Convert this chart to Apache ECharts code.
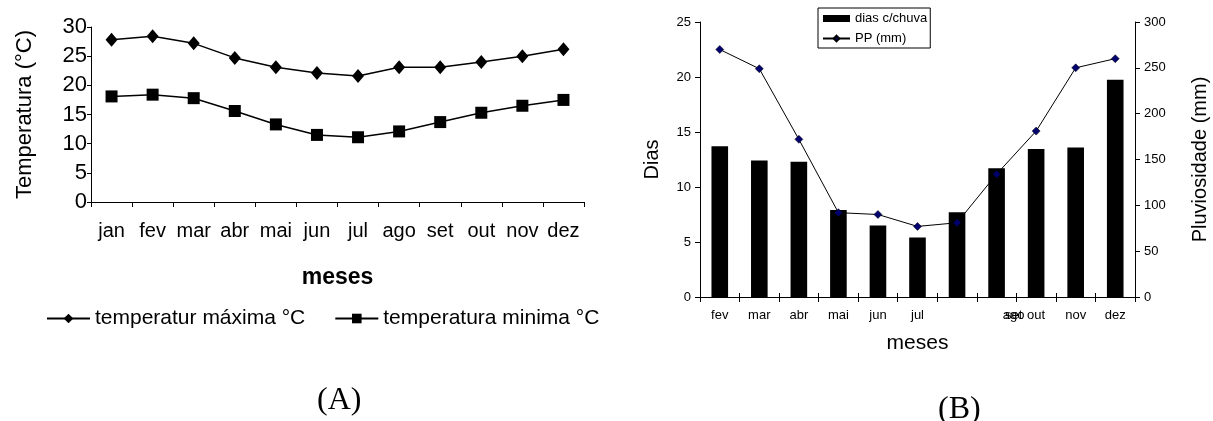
<!DOCTYPE html>
<html>
<head>
<meta charset="utf-8">
<script src="https://cdn.jsdelivr.net/npm/echarts@6/dist/echarts.min.js"></script>
<style>
  html, body { margin: 0; padding: 0; background: #fff; }
  #main { width: 1213px; height: 421px; }
</style>
</head>
<body>
<div id="main"></div>
<script>
// (A) temperaturas mensais
var meses = ['jan', 'fev', 'mar', 'abr', 'mai', 'jun', 'jul', 'ago', 'set', 'out', 'nov', 'dez'];
var tempMaxima = [27.8, 28.4, 27.2, 24.7, 23.1, 22.1, 21.6, 23.1, 23.1, 24.0, 25.0, 26.2];
var tempMinima = [18.1, 18.4, 17.8, 15.6, 13.3, 11.5, 11.1, 12.1, 13.7, 15.3, 16.5, 17.5];

// (B) dias de chuva e pluviosidade
var mesesB = ['fev', 'mar', 'abr', 'mai', 'jun', 'jul', '', 'ago', 'out', 'nov', 'dez'];
var mesesBSobrepostos = ['', '', '', '', '', '', '', 'set', '', '', ''];
var diasChuva = [13.7, 12.4, 12.3, 7.9, 6.5, 5.4, 7.7, 11.7, 13.45, 13.6, 19.75];
var pluviosidade = [270, 249, 172, 92, 90, 77, 81, 134, 181, 250, 260];

var fonte = "'Liberation Sans', Arial, sans-serif";
var serifa = "'Liberation Serif', 'Times New Roman', serif";
var preto = '#000';

// o rotulo 'ago' / 'set' fica deslocado para a direita, como no original
function labelB(v, i) {
    return i === 7 ? '{s|' + v + '}' : v;
}

var chart = echarts.init(document.getElementById('main'));
chart.setOption({
    animation: false,
    backgroundColor: '#fff',
    textStyle: { fontFamily: fonte, color: preto },
    title: [
        { text: '(A)', left: 312, top: 380, textStyle: { fontFamily: serifa, fontSize: 32, fontWeight: 'normal', color: preto } },
        { text: '(B)', left: 933, top: 389, textStyle: { fontFamily: serifa, fontSize: 32, fontWeight: 'normal', color: preto } }
    ],
    legend: [
        {
            data: ['temperatur máxima °C', 'temperatura minima °C'],
            left: 41, top: 303,
            itemWidth: 43, itemHeight: 12, itemGap: 29,
            textStyle: { fontFamily: fonte, fontSize: 21, color: preto }
        },
        {
            data: [{ name: 'dias c/chuva', icon: 'rect' }, 'PP (mm)'],
            orient: 'vertical',
            left: 818, top: 8,
            padding: [4, 3, 3, 4],
            borderColor: preto, borderWidth: 1, borderRadius: 0,
            itemWidth: 27, itemHeight: 7, itemGap: 7,
            textStyle: { fontFamily: fonte, fontSize: 13, color: preto }
        }
    ],
    grid: [
        { left: 91, top: 27, width: 493, height: 175 },
        { left: 700, top: 22, width: 435, height: 275 }
    ],
    xAxis: [
        {
            type: 'category', gridIndex: 0, data: meses, boundaryGap: true,
            axisLine: { lineStyle: { color: preto, width: 1 } },
            axisTick: { show: true, length: 5, lineStyle: { color: preto } },
            axisLabel: { fontFamily: fonte, fontSize: 20, color: preto, margin: 19, interval: 0 },
            name: 'meses', nameLocation: 'middle', nameGap: 64,
            nameTextStyle: { fontFamily: fonte, fontSize: 23, fontWeight: 'bold', color: preto }
        },
        {
            type: 'category', gridIndex: 1, data: mesesB, boundaryGap: true, position: 'bottom',
            axisLine: { lineStyle: { color: preto, width: 1 } },
            axisTick: { show: true, length: 5, lineStyle: { color: preto } },
            axisLabel: {
                fontFamily: fonte, fontSize: 13, color: preto, margin: 12, interval: 0,
                formatter: labelB,
                rich: { s: { fontFamily: fonte, fontSize: 13, color: preto, padding: [0, 0, 0, 34] } }
            },
            name: 'meses', nameLocation: 'middle', nameGap: 36,
            nameTextStyle: { fontFamily: fonte, fontSize: 21, color: preto }
        },
        {
            // segundo eixo so para sobrepor 'set' e dar ticks que cruzam o eixo
            type: 'category', gridIndex: 1, data: mesesBSobrepostos, boundaryGap: true, position: 'bottom',
            axisLine: { show: false },
            axisTick: { show: true, inside: true, length: 4, lineStyle: { color: preto } },
            axisLabel: {
                fontFamily: fonte, fontSize: 13, color: preto, margin: 12, interval: 0,
                formatter: labelB,
                rich: { s: { fontFamily: fonte, fontSize: 13, color: preto, padding: [0, 0, 0, 34] } }
            }
        }
    ],
    yAxis: [
        {
            type: 'value', gridIndex: 0, min: 0, max: 30, interval: 5,
            splitLine: { show: false },
            axisLine: { show: true, lineStyle: { color: preto, width: 1 } },
            axisTick: { show: true, length: 4, lineStyle: { color: preto } },
            axisLabel: { fontFamily: fonte, fontSize: 22, color: preto, margin: 4 },
            name: 'Temperatura (°C)', nameLocation: 'middle', nameGap: 55, nameRotate: 90,
            nameTextStyle: { fontFamily: fonte, fontSize: 22, color: preto }
        },
        {
            type: 'value', gridIndex: 1, min: 0, max: 25, interval: 5, position: 'left',
            splitLine: { show: false },
            axisLine: { show: true, lineStyle: { color: preto, width: 1 } },
            axisTick: { show: true, length: 5, lineStyle: { color: preto } },
            axisLabel: { fontFamily: fonte, fontSize: 13, color: preto, margin: 9 },
            name: 'Dias', nameLocation: 'middle', nameGap: 38, nameRotate: 90,
            nameTextStyle: { fontFamily: fonte, fontSize: 20, color: preto }
        },
        {
            type: 'value', gridIndex: 1, min: 0, max: 300, interval: 50, position: 'right',
            splitLine: { show: false },
            axisLine: { show: true, lineStyle: { color: preto, width: 1 } },
            axisTick: { show: true, length: 5, lineStyle: { color: preto } },
            axisLabel: { fontFamily: fonte, fontSize: 13, color: preto, margin: 9 },
            name: 'Pluviosidade (mm)', nameLocation: 'middle', nameGap: 55, nameRotate: 90,
            nameTextStyle: { fontFamily: fonte, fontSize: 20, color: preto }
        }
    ],
    series: [
        {
            name: 'temperatur máxima °C', type: 'line', xAxisIndex: 0, yAxisIndex: 0,
            data: tempMaxima, symbol: 'diamond', symbolSize: [12, 14], showAllSymbol: true,
            lineStyle: { color: preto, width: 1.5 }, itemStyle: { color: preto }
        },
        {
            name: 'temperatura minima °C', type: 'line', xAxisIndex: 0, yAxisIndex: 0,
            data: tempMinima, symbol: 'rect', symbolSize: 12, showAllSymbol: true,
            lineStyle: { color: preto, width: 1.5 }, itemStyle: { color: preto }
        },
        {
            name: 'dias c/chuva', type: 'bar', xAxisIndex: 1, yAxisIndex: 1,
            data: diasChuva, barWidth: '42%',
            itemStyle: { color: preto }
        },
        {
            name: 'PP (mm)', type: 'line', xAxisIndex: 1, yAxisIndex: 2,
            data: pluviosidade, symbol: 'diamond', symbolSize: 8, showAllSymbol: true,
            lineStyle: { color: preto, width: 1 },
            itemStyle: { color: '#00006e', borderColor: '#000', borderWidth: 0.5 }
        }
    ]
});
</script>
</body>
</html>
